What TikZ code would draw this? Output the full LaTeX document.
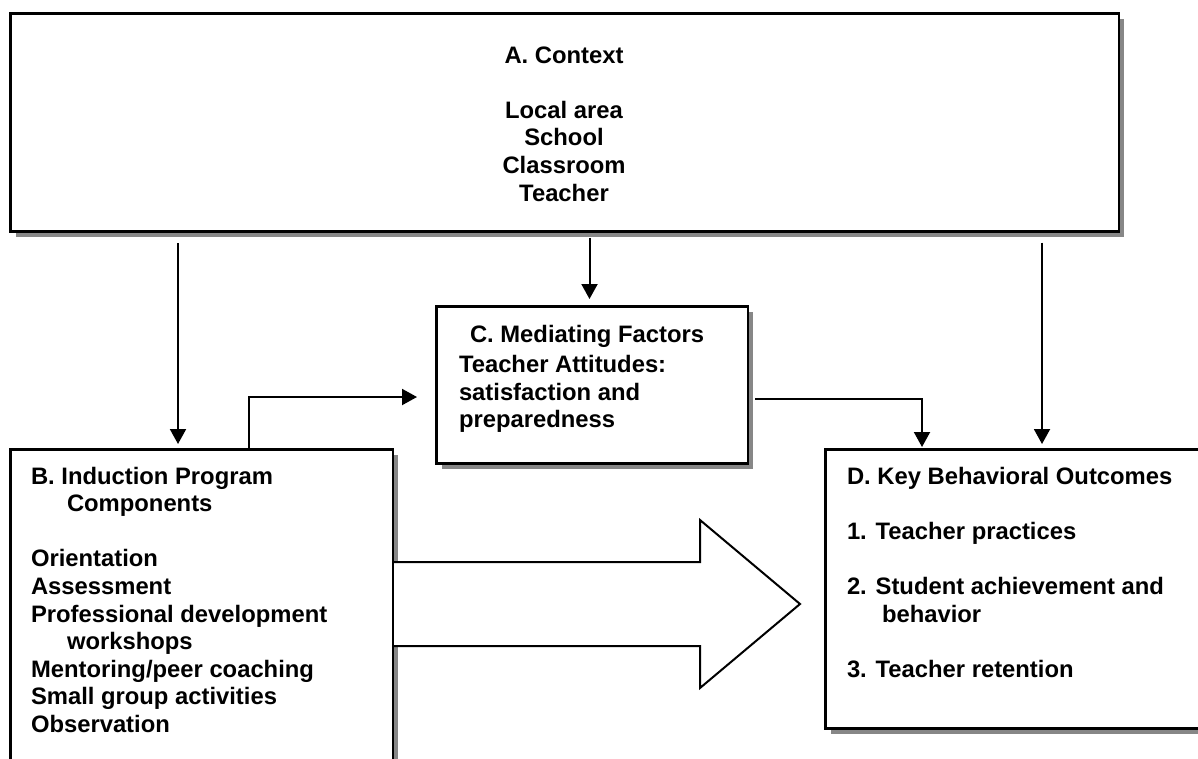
\documentclass[tikz,border=0pt]{standalone}
\usepackage{fontspec}
\setmainfont{Liberation Sans}
\usetikzlibrary{arrows.meta,shadows}

\begin{document}
\begin{tikzpicture}[x=1pt,y=-1pt,line cap=butt,line join=miter,
  >={Triangle[width=16pt,length=15pt]},
  box/.style={draw,line width=2.8pt,fill=white,inner sep=0pt,outer sep=0pt,anchor=north west,
    general shadow={fill=black!47,shadow xshift=5pt,shadow yshift=-5pt}},
  boxtext/.style={inner sep=0pt,outer sep=0pt,font=\fontsize{23.8}{27.6}\selectfont\bfseries},
  link/.style={->,line width=2pt},
  bigarrow/.style={fill=white,line width=2pt}]
\path[use as bounding box,clip] (0,0) rectangle (1198,758);

\node[box,minimum width=1108.5pt,minimum height=218pt] (ctx) at (10.5,13.5) {};
\node[box,minimum width=382.5pt,minimum height=350pt] (ind) at (10.5,449.5) {};
\node[box,minimum width=311.5pt,minimum height=157pt] (med) at (436.5,306.5) {};
\node[box,minimum width=420pt,minimum height=279pt] (out) at (825.5,449.5) {};

\node[boxtext,anchor=north,align=center] (ctxtext) at (564,43.7)
  {\strut A. Context\\[27.6pt]Local area\\School\\Classroom\\Teacher};
\node[boxtext,anchor=north west,align=left] (indtext) at (31,464.7)
  {\strut B. Induction Program\\\hspace*{36pt}Components\\[27.6pt]Orientation\\Assessment\\
   Professional development\\\hspace*{36pt}workshops\\Mentoring/peer coaching\\
   Small group activities\\Observation};
\node[boxtext,anchor=north west,align=left] (medtext) at (459,322.7)
  {\strut\hspace*{11pt}C. Mediating Factors\\[3pt]Teacher Attitudes:\\satisfaction and\\preparedness};
\node[boxtext,anchor=north west,align=left] (outtext) at (847,464.7)
  {\strut D. Key Behavioral Outcomes\\[27.6pt]1. Teacher practices\\[27.6pt]2. Student achievement and\\
   \hspace*{35pt}behavior\\[27.6pt]3. Teacher retention};

\draw[link,shorten <=11.5pt,shorten >=5.5pt] ([xshift=167.5pt]ctx.south west) -- ([xshift=167.5pt]ctx.south west |- ind.north);
\draw[link,shorten <=6.5pt,shorten >=7.5pt] ([xshift=579pt]ctx.south west) -- ([xshift=579pt]ctx.south west |- med.north);
\draw[link,shorten <=11pt,shorten >=5.5pt] ([xshift=1031.5pt]ctx.south west) -- ([xshift=1031.5pt]ctx.south west |- out.north);
\draw[link,shorten >=19.5pt] ([xshift=238.5pt]ind.north west) |- ([yshift=-12pt]med.west);
\draw[link,shorten <=7pt,shorten >=2.5pt] ([yshift=-13.7pt]med.east) -| ([xshift=96.5pt]out.north west);

\coordinate (flowtail) at ([xshift=1pt]ind.north east |- 0,604);
\filldraw[bigarrow] ([yshift=42pt]flowtail) -- ++(306,0) -- ++(0,-42) -- ++(100,84)
  -- ++(-100,84) -- ++(0,-42) -- ([yshift=-42pt]flowtail);

\end{tikzpicture}
\end{document}
